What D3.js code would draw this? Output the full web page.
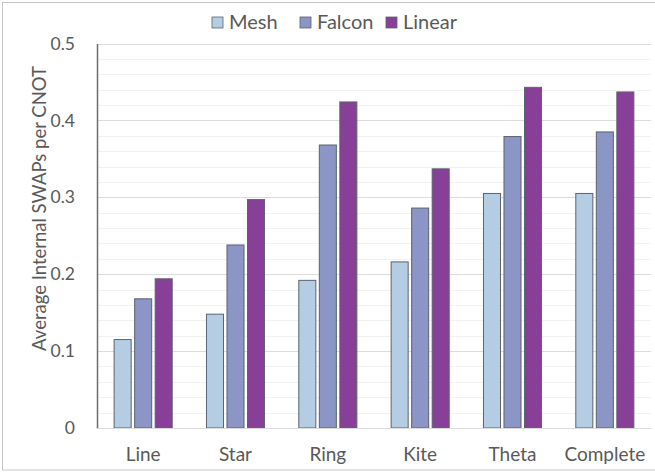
<!DOCTYPE html>
<html>
<head>
<meta charset="utf-8">
<script src="https://cdn.jsdelivr.net/npm/d3@7/dist/d3.min.js"></script>
<style>
  html, body { margin: 0; padding: 0; background: #fff; }
  svg { display: block; }
  text { font-family: Lato, "Open Sans", sans-serif; fill: #595959; }
</style>
</head>
<body>
<svg id="chart" width="655" height="474"></svg>
<script>
// Topologies along the x axis
const categories = ["Line", "Star", "Ring", "Kite", "Theta", "Complete"];
// Series names (legend order)
const seriesNames = ["Mesh", "Falcon", "Linear"];
// Average internal SWAPs per CNOT for each series
const meshValues   = [0.115, 0.148, 0.192, 0.216, 0.305, 0.305];
const falconValues = [0.168, 0.238, 0.368, 0.286, 0.379, 0.385];
const linearValues = [0.194, 0.297, 0.424, 0.337, 0.443, 0.437];
// Y axis ticks
const yTicks = [0, 0.1, 0.2, 0.3, 0.4, 0.5];
const yMinorTicks = d3.range(0, 0.5001, 0.02);

const colors = { Mesh: "#b4cde3", Falcon: "#8b96c6", Linear: "#873f98" };
const seriesValues = { Mesh: meshValues, Falcon: falconValues, Linear: linearValues };

const svg = d3.select("#chart");
const plot = { left: 97, right: 651, top: 43.5, bottom: 428 };
const font = "Lato, 'Open Sans', sans-serif";

// Outer frame
svg.append("rect")
  .attr("x", 2.5).attr("y", 2.5)
  .attr("width", 700).attr("height", 467.5)
  .attr("fill", "#fff").attr("stroke", "#c8c8c8").attr("stroke-width", 1);

const y = d3.scaleLinear().domain([0, 0.5]).range([plot.bottom, plot.top]);
const x0 = d3.scaleBand().domain(categories).range([plot.left, plot.right]).padding(0);
const x1 = d3.scaleBand().domain(seriesNames).range([0, x0.bandwidth()])
  .paddingInner(0.17).paddingOuter(0.835);

// Minor gridlines
svg.append("g").selectAll("line").data(yMinorTicks).join("line")
  .attr("x1", plot.left).attr("x2", plot.right)
  .attr("y1", d => Math.round(y(d)) + 0.5).attr("y2", d => Math.round(y(d)) + 0.5)
  .attr("stroke", "#f2f2f2").attr("stroke-width", 1);

// Major gridlines
svg.append("g").selectAll("line").data(yTicks).join("line")
  .attr("x1", plot.left).attr("x2", plot.right)
  .attr("y1", d => Math.round(y(d)) + 0.5).attr("y2", d => Math.round(y(d)) + 0.5)
  .attr("stroke", "#dcdcdc").attr("stroke-width", 1);

// Bars
const groups = svg.append("g").selectAll("g").data(categories).join("g")
  .attr("transform", d => `translate(${x0(d)},0)`);
groups.selectAll("rect")
  .data((c, i) => seriesNames.map(s => ({ s, v: seriesValues[s][i] })))
  .join("rect")
  .attr("x", d => x1(d.s))
  .attr("y", d => y(d.v))
  .attr("width", x1.bandwidth())
  .attr("height", d => y(0) - y(d.v))
  .attr("fill", d => colors[d.s])
  .attr("stroke", "#5c6272")
  .attr("stroke-width", 1);

// Y axis
const yAxis = svg.append("g")
  .attr("transform", `translate(${plot.left},0)`)
  .call(d3.axisLeft(y).tickValues(yTicks).tickSize(0).tickPadding(22)
    .tickFormat(d => d === 0 ? "0" : d3.format(".1f")(d)));
yAxis.select(".domain").attr("stroke", "#6e6e6e").attr("stroke-width", 1.5);
yAxis.selectAll("text").style("font-size", "17.5px").attr("fill", "#595959")
  .style("font-family", font);

// X axis
const xAxis = svg.append("g")
  .attr("transform", `translate(0,${plot.bottom})`)
  .call(d3.axisBottom(x0).tickSize(0).tickPadding(20));
xAxis.select(".domain").attr("stroke", "#dcdcdc");
xAxis.selectAll("text").style("font-size", "19px").attr("fill", "#595959")
  .style("font-family", font);

// Y axis title
svg.append("text")
  .attr("transform", `translate(46,208.5) rotate(-90)`)
  .attr("text-anchor", "middle")
  .style("font-size", "18.5px")
  .text("Average Internal SWAPs per CNOT");

// Legend
const legendX = [212, 300, 386];
const legend = svg.append("g").selectAll("g").data(seriesNames).join("g")
  .attr("transform", (d, i) => `translate(${legendX[i]},17)`);
legend.append("rect")
  .attr("width", 11).attr("height", 11)
  .attr("fill", d => colors[d]).attr("stroke", "#5c6272").attr("stroke-width", 0.8);
legend.append("text")
  .attr("x", 17).attr("y", 12)
  .style("font-size", "20px")
  .text(d => d);
</script>
</body>
</html>
